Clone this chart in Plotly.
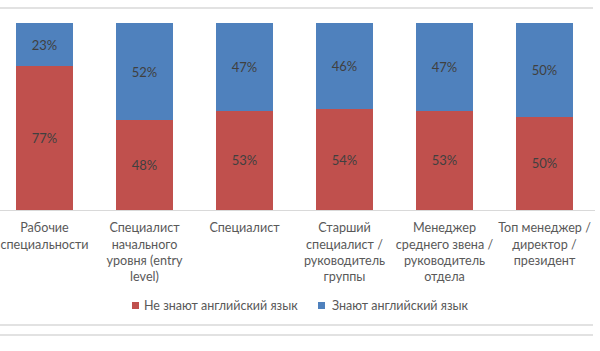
import plotly.graph_objects as go

categories = [
    "Рабочие<br>специальности",
    "Специалист<br>начального<br>уровня (entry<br>level)",
    "Специалист",
    "Старший<br>специалист /<br>руководитель<br>группы",
    "Менеджер<br>среднего звена /<br>руководитель<br>отдела",
    "Топ менеджер /<br>директор /<br>президент",
]
dont_know = [77, 48, 53, 54, 53, 50]
know = [23, 52, 47, 46, 47, 50]
series_names = ["Не знают английский язык", "Знают английский язык"]
colors = ["#C0504D", "#4F81BD"]

FONT = "Lato"
W, H = 600, 351
ML, MR, MT, MB = 0, 5, 23, 141
PW, PH = W - ML - MR, H - MT - MB

def px(x):
    return (x - ML) / PW

def py(y):
    return (H - MB - y) / PH

fig = go.Figure()
for vals, name, col in [(dont_know, series_names[0], colors[0]), (know, series_names[1], colors[1])]:
    fig.add_bar(x=categories, y=vals, name=name, marker_color=col,
                text=[f"{v}%" for v in vals], textposition="inside", insidetextanchor="middle",
                textfont=dict(color="#404040", size=13, family=FONT), marker_line_width=0,
                showlegend=False)

fig.update_layout(
    barmode="stack", bargap=0.43,
    width=W, height=H,
    margin=dict(l=ML, r=MR, t=MT, b=MB),
    paper_bgcolor="white", plot_bgcolor="white",
    font=dict(family=FONT, size=12, color="#595959"),
    showlegend=False,
)
fig.update_xaxes(range=[-0.445, 5.505], showline=True, linecolor="#d9d9d9", linewidth=1,
                 ticks="", tickangle=0, showgrid=False, ticklabelstandoff=6,
                 tickfont=dict(family=FONT, size=12.6, color="#595959"))
fig.update_yaxes(range=[0, 100], visible=False, showgrid=False)

# frame lines
for y in [8, 325, 335]:
    fig.add_shape(type="line", xref="paper", yref="paper", x0=0, x1=px(593), y0=py(y), y1=py(y),
                  line=dict(color="#d9d9d9", width=1.5))

# legend (manual)
legend_pos = [(132, 142), (318, 330)]
for (sx, tx), name, col in zip(legend_pos, series_names, colors):
    fig.add_shape(type="rect", xref="paper", yref="paper",
                  x0=px(sx), x1=px(sx + 7), y0=py(302), y1=py(309),
                  fillcolor=col, line=dict(width=0))
    fig.add_annotation(xref="paper", yref="paper", x=px(tx), y=py(305.5), text=name,
                       showarrow=False, xanchor="left", yanchor="middle",
                       font=dict(family=FONT, size=12.5, color="#595959"))

fig.write_html("out.html")
